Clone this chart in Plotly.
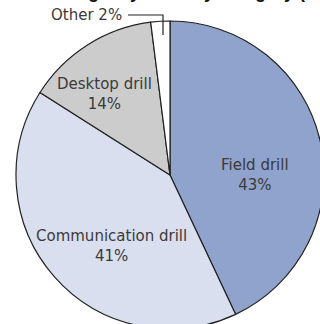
import plotly.graph_objects as go

# Share of drills by category (%)
categories = ["Field drill", "Communication drill", "Desktop drill", "Other"]
shares = [43, 41, 14, 2]
slice_colors = ["#8FA3CC", "#DADFF0", "#CCCCCC", "#FFFFFF"]
title_text = "Emergency drills by category (%)"

# Canvas is a little larger than the view so the pie runs off the right/bottom edge
W, H = 326, 331
ML, MR, MT, MB = 16, 2, 21, 2
PW, PH = W - ML - MR, H - MT - MB


def px(x):
    return (x - ML) / PW


def py(y):
    return 1 - (y - MT) / PH


fig = go.Figure(
    go.Pie(
        labels=categories,
        values=shares,
        sort=False,
        direction="clockwise",
        rotation=0,
        marker=dict(colors=slice_colors, line=dict(color="#222222", width=1.2)),
        textinfo="none",
        hoverinfo="skip",
        showlegend=False,
    )
)

label_font = dict(family="DejaVu Sans", size=15, color="#3a3a3a")

# Inside labels: name on the first line, share below
label_pos = {
    "Field drill": (255, 175),
    "Communication drill": (111, 246),
    "Desktop drill": (104, 94),
}
annotations = []
for cat, share in zip(categories, shares):
    if cat in label_pos:
        x, y = label_pos[cat]
        annotations.append(
            dict(
                text=f"{cat}<br>{share}%",
                x=px(x), y=py(y), xref="paper", yref="paper",
                xanchor="center", yanchor="middle",
                showarrow=False, font=label_font, align="center",
            )
        )

# Small slice gets an outside label with a leader line
other_idx = categories.index("Other")
annotations.append(
    dict(
        text=f"{categories[other_idx]} {shares[other_idx]}%",
        x=px(124), y=py(15), xref="paper", yref="paper",
        xanchor="right", yanchor="middle",
        showarrow=False, font=label_font,
    )
)

# Title sits mostly above the visible area
annotations.append(
    dict(
        text=f"<b>{title_text}</b>",
        x=px(185), y=py(4), xref="paper", yref="paper",
        xanchor="center", yanchor="bottom",
        showarrow=False,
        font=dict(family="Liberation Sans", size=18, color="#111111"),
    )
)

fig.update_layout(
    width=W,
    height=H,
    margin=dict(l=ML, r=MR, t=MT, b=MB, pad=0),
    paper_bgcolor="white",
    plot_bgcolor="white",
    annotations=annotations,
    shapes=[
        dict(
            type="path",
            xref="paper", yref="paper",
            path=f"M {px(128)},{py(15)} L {px(163)},{py(15)} L {px(163)},{py(35)}",
            line=dict(color="#222222", width=1.2),
        )
    ],
)

fig.write_html("out.html")
